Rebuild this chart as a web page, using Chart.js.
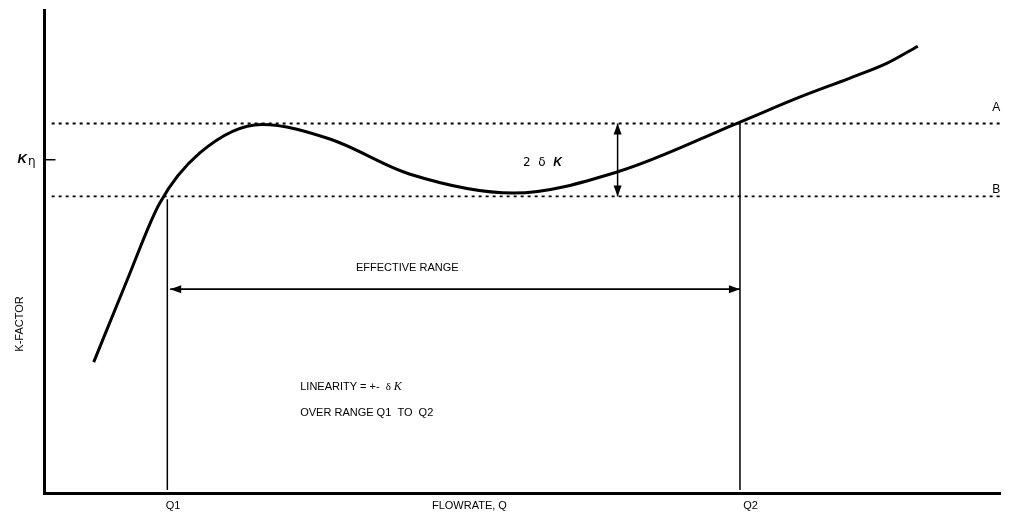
<!DOCTYPE html>
<html>
<head>
<meta charset="utf-8">
<script src="https://cdn.jsdelivr.net/npm/chart.js@4.4.1/dist/chart.umd.min.js"></script>
<style>
  html, body { margin: 0; padding: 0; background: #fff; }
  #wrap { width: 1009px; height: 521px; }
</style>
</head>
<body>
<div id="wrap"><canvas id="chart" width="1009" height="521"></canvas></div>
<script>
// K-factor response curve of the meter against flowrate
const flowrate = [5.2, 8.7, 12.1, 16.3, 22.8, 29.9, 38.3, 49.1, 60.0, 72.8, 79.1, 84.3, 88.2, 91.4];
const kFactor  = [27.1, 44.1, 60.0, 70.4, 76.3, 73.3, 66.0, 62.1, 66.5, 76.8, 82.0, 85.9, 89.0, 92.5];

// Tolerance band limits and the nominal K-factor
const kUpper = 76.5;   // line A
const kLower = 61.4;   // line B
const kNominal = 69.0; // K eta
// Flowrates bounding the effective range
const q1 = 12.9;
const q2 = 72.8;
const deltaKAt = 60.0; // flowrate where the 2 delta K span is marked
const rangeArrowK = 42.2;

const xLabels = ['Q1', 'FLOWRATE, Q', 'Q2'];
const xLabelAt = [13.5, 44.5, 73.9];

const curve = flowrate.map((q, i) => ({ x: q, y: kFactor[i] }));

function seg(x1, y1, x2, y2) { return [{ x: x1, y: y1 }, { x: x2, y: y2 }]; }

const lineStyle = { pointRadius: 0, borderColor: '#000', fill: false, tension: 0 };

const datasets = [
  Object.assign({}, lineStyle, { data: curve, borderWidth: 3, cubicInterpolationMode: 'monotone' }),
  Object.assign({}, lineStyle, { data: seg(0.8, kUpper, 100, kUpper), borderWidth: 1.8, borderDash: [3, 4] }),
  Object.assign({}, lineStyle, { data: seg(0.8, kLower, 100, kLower), borderWidth: 1.8, borderDash: [3, 4] }),
  Object.assign({}, lineStyle, { data: seg(q1, kLower - 0.6, q1, 0.6), borderWidth: 1.5 }),
  Object.assign({}, lineStyle, { data: seg(q2, kUpper, q2, 0.6), borderWidth: 1.5 }),
  Object.assign({}, lineStyle, { data: seg(q1 + 0.3, rangeArrowK, q2, rangeArrowK), borderWidth: 1.8, arrowHeads: 'both' }),
  Object.assign({}, lineStyle, { data: seg(deltaKAt, kLower, deltaKAt, kUpper), borderWidth: 1.5, arrowHeads: 'both' }),
  Object.assign({}, lineStyle, { data: seg(0, kNominal, 1.2, kNominal), borderWidth: 1.5 })
];

// Filled arrowheads at the ends of the flagged segments
const arrowPlugin = {
  id: 'arrowHeads',
  afterDatasetsDraw(chart) {
    const ctx = chart.ctx;
    chart.data.datasets.forEach((ds, i) => {
      if (!ds.arrowHeads) return;
      const pts = chart.getDatasetMeta(i).data;
      const n = pts.length;
      const heads = [[pts[n - 2], pts[n - 1]], [pts[1], pts[0]]];
      heads.forEach(([from, to]) => {
        const ang = Math.atan2(to.y - from.y, to.x - from.x);
        const len = 11, half = 4;
        ctx.save();
        ctx.fillStyle = '#000';
        ctx.translate(to.x, to.y);
        ctx.rotate(ang);
        ctx.beginPath();
        ctx.moveTo(0, 0);
        ctx.lineTo(-len, -half);
        ctx.lineTo(-len, half);
        ctx.closePath();
        ctx.fill();
        ctx.restore();
      });
    });
  }
};

// Text placed at data positions
const notes = [
  { parts: [['A', '12px "Liberation Sans"']], x: 99.6, y: 79.8, align: 'center' },
  { parts: [['B', '12px "Liberation Sans"']], x: 99.6, y: 62.9, align: 'center' },
  { parts: [['2  δ  ', '12px "DejaVu Sans"'], ['K', 'italic bold 12px "Liberation Sans"']], x: 50.1, y: 68.3, align: 'left' },
  { parts: [['EFFECTIVE RANGE', '11px "Liberation Sans"']], x: 38.0, y: 46.6, align: 'center' },
  { parts: [['LINEARITY = +-  ', '11px "Liberation Sans"'], ['δ ', '11px "Liberation Serif"'], ['K', 'italic 12px "Liberation Serif"']], x: 26.8, y: 22.0, align: 'left' },
  { parts: [['OVER RANGE Q1  TO  Q2', '11px "Liberation Sans"']], x: 26.8, y: 16.6, align: 'left' }
];

const textPlugin = {
  id: 'notes',
  afterDraw(chart) {
    const ctx = chart.ctx;
    const xs = chart.scales.x, ys = chart.scales.y;
    ctx.save();
    ctx.fillStyle = '#000';
    ctx.textBaseline = 'middle';
    notes.forEach(n => {
      let total = 0;
      n.parts.forEach(([t, f]) => { ctx.font = f; total += ctx.measureText(t).width; });
      let px = xs.getPixelForValue(n.x);
      const py = ys.getPixelForValue(n.y);
      if (n.align === 'center') px -= total / 2;
      ctx.textAlign = 'left';
      n.parts.forEach(([t, f]) => {
        ctx.font = f;
        ctx.fillText(t, px, py);
        px += ctx.measureText(t).width;
      });
    });

    // flowrate labels under the axis
    ctx.font = '11px "Liberation Sans"';
    ctx.textAlign = 'center';
    xLabels.forEach((t, i) => {
      ctx.fillText(t, xs.getPixelForValue(xLabelAt[i]), chart.chartArea.bottom + 13);
    });

    // nominal K-factor label left of the axis
    const ky = ys.getPixelForValue(kNominal);
    ctx.textAlign = 'right';
    ctx.font = 'italic bold 13px "Liberation Sans"';
    ctx.fillText('K', 27, ky);
    ctx.textAlign = 'left';
    ctx.font = '12px "DejaVu Sans"';
    ctx.fillText('η', 28, ky + 2);

    // vertical axis title
    ctx.translate(20, ys.getPixelForValue(35));
    ctx.rotate(-Math.PI / 2);
    ctx.textAlign = 'center';
    ctx.font = '11px "Liberation Sans"';
    ctx.fillText('K-FACTOR', 0, 0);
    ctx.restore();
  }
};

new Chart(document.getElementById('chart'), {
  type: 'line',
  data: { datasets },
  options: {
    responsive: false,
    animation: false,
    devicePixelRatio: 1,
    layout: { padding: { top: 10, right: 9, left: 0, bottom: 0 } },
    plugins: { legend: { display: false }, tooltip: { enabled: false } },
    scales: {
      x: {
        type: 'linear', min: 0, max: 100,
        ticks: { display: false },
        grid: { display: false },
        border: { display: true, color: '#000', width: 3 },
        afterFit(scale) { scale.height = 28; }
      },
      y: {
        type: 'linear', min: 0, max: 100,
        ticks: { display: false },
        grid: { display: false },
        border: { display: true, color: '#000', width: 3 },
        afterFit(scale) { scale.width = 44; }
      }
    }
  },
  plugins: [arrowPlugin, textPlugin]
});
</script>
</body>
</html>
